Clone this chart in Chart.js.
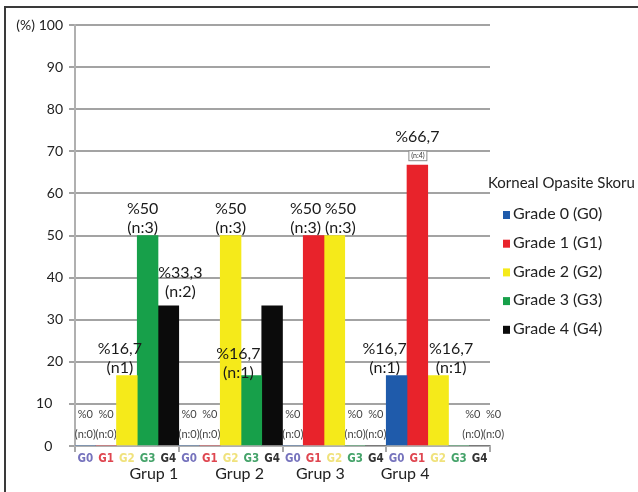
<!DOCTYPE html>
<html>
<head>
<meta charset="utf-8">
<script src="https://cdn.jsdelivr.net/npm/chart.js@4.4.1/dist/chart.umd.min.js"></script>
<style>
  html,body{margin:0;padding:0;background:#fff;}
  #c{display:block;}
</style>
</head>
<body>
<canvas id="c" width="638" height="492"></canvas>
<script>
/* categories */
const groupNames = ["Grup 1", "Grup 2", "Grup 3", "Grup 4"];
const gradeCodes = ["G0", "G1", "G2", "G3", "G4"];
const gradeNames = ["Grade 0 (G0)", "Grade 1 (G1)", "Grade 2 (G2)", "Grade 3 (G3)", "Grade 4 (G4)"];
const legendTitle = "Korneal Opasite Skoru";

/* percentages per grade, one value per group */
const grade0 = [0, 0, 0, 16.7];
const grade1 = [0, 0, 50, 66.7];
const grade2 = [16.7, 50, 50, 16.7];
const grade3 = [50, 16.7, 0, 0];
const grade4 = [33.3, 33.3, 0, 0];

/* case counts shown under the percentage (null = no label) */
const nGrade0 = ["(n:0)", "(n:0)", "(n:0)", "(n:1)"];
const nGrade1 = ["(n:0)", "(n:0)", "(n:3)", "(n:4)"];
const nGrade2 = ["(n1)", "(n:3)", "(n:3)", "(n:1)"];
const nGrade3 = ["(n:3)", "(n:1)", "(n:0)", "(n:0)"];
const nGrade4 = ["(n:2)", null, "(n:0)", "(n:0)"];

/* y axis */
const yMin = 0, yMax = 100, yStep = 10;

const barColors  = ["#1f5bab", "#e8232b", "#f5ea1a", "#17a04a", "#0b0b0b"];
const codeColors = ["#7673bd", "#df4650", "#f0e27c", "#45a36a", "#333333"];

const FONT = "Lato, 'Open Sans', sans-serif";
const CODE_FONT = "bold 11.5px 'DejaVu Sans Condensed', 'Liberation Sans Narrow', 'DejaVu Sans', sans-serif";

// small shifts for some value labels, key = "grade,group"
const labelNudge = {
  "2,0": {dx: -7},
  "3,0": {dx: -5},
  "4,0": {dx: 12, dy: -6},
  "3,1": {dx: -13, dy: 5},
  "1,2": {dx: -8},
  "2,2": {dx: 6},
  "0,3": {dx: -12},
  "1,3": {boxed: true},
  "2,3": {dx: 13},
  "3,3": {dx: 14},
  "4,3": {dx: 14}
};
// group captions are not centred under their groups
const groupShift = [27, 9, -14, -33];

const series = [grade0, grade1, grade2, grade3, grade4];
const nTags = [nGrade0, nGrade1, nGrade2, nGrade3, nGrade4];

function pctText(v){ return "%" + String(v).replace(".", ","); }

function drawValueLabels(chart, zeroPass){
  const c = chart.ctx;
  c.save();
  c.textAlign = "center";
  c.textBaseline = "middle";
  chart.data.datasets.forEach((ds, i) => {
    const meta = chart.getDatasetMeta(i);
    meta.data.forEach((bar, j) => {
      const v = ds.data[j], n = ds.nTags[j];
      if (n === null) return;
      if ((v === 0) !== zeroPass) return;
      const nd = labelNudge[i + "," + j] || {};
      const x = bar.x + (nd.dx || 0);
      if (v === 0) {
        c.font = "11px " + FONT;
        c.fillStyle = "#444";
        c.fillText(pctText(v), x, bar.y - 32);
        c.fillText(n, x, bar.y - 12);
      } else if (nd.boxed) {
        c.font = "16px " + FONT;
        c.fillStyle = "#1a1a1a";
        c.fillText(pctText(v), x, bar.y - 28);
        c.fillStyle = "#fff";
        c.strokeStyle = "#8a8a8a";
        c.lineWidth = 1;
        c.fillRect(x - 8.5, bar.y - 14.5, 18, 10);
        c.strokeRect(x - 8.5, bar.y - 14.5, 18, 10);
        c.font = "7px " + FONT;
        c.fillStyle = "#333";
        c.fillText(n, x + 0.5, bar.y - 9.5);
      } else {
        const y = bar.y - 8 + (nd.dy || 0);
        c.font = "16px " + FONT;
        c.fillStyle = "#1a1a1a";
        c.fillText(pctText(v), x, y - 19);
        c.fillText(n, x, y);
      }
    });
  });
  c.restore();
}

const extras = {
  id: "extras",
  beforeDraw(chart){
    const c = chart.ctx;
    c.save();
    c.fillStyle = "#fff";
    c.fillRect(0, 0, chart.width, chart.height);
    c.strokeStyle = "#3a3a3a";
    c.lineWidth = 2;
    c.strokeRect(5, 7, chart.width + 20, chart.height + 20);
    c.restore();
  },
  beforeDatasetsDraw(chart){ drawValueLabels(chart, true); },
  afterDatasetsDraw(chart){ drawValueLabels(chart, false); },
  afterDraw(chart){
    const c = chart.ctx, area = chart.chartArea, xs = chart.scales.x;
    c.save();
    c.textBaseline = "middle";
    c.textAlign = "center";
    // grade codes under each bar
    c.font = CODE_FONT;
    chart.data.datasets.forEach((ds, i) => {
      chart.getDatasetMeta(i).data.forEach(bar => {
        c.fillStyle = codeColors[i];
        c.fillText(gradeCodes[i], bar.x, area.bottom + 13);
      });
    });
    // group captions
    c.font = "16px " + FONT;
    c.fillStyle = "#222";
    groupNames.forEach((g, j) => {
      c.fillText(g, xs.getPixelForValue(j) + groupShift[j], area.bottom + 28);
    });
    // legend
    c.textAlign = "left";
    c.font = "15px " + FONT;
    c.fillText(legendTitle, area.right - 2, 183);
    c.font = "16px " + FONT;
    chart.data.datasets.forEach((ds, i) => {
      const y = 214 + i * 28.7;
      c.fillStyle = ds.backgroundColor;
      c.fillRect(area.right + 13, y - 3, 7, 8);
      c.fillStyle = "#222";
      c.fillText(ds.label, area.right + 23, y);
    });
    c.restore();
  }
};

new Chart(document.getElementById("c"), {
  type: "bar",
  data: {
    labels: groupNames,
    datasets: series.map((d, i) => ({
      label: gradeNames[i],
      data: d,
      nTags: nTags[i],
      backgroundColor: barColors[i],
      borderWidth: 0,
      categoryPercentage: 1,
      barPercentage: 1
    }))
  },
  options: {
    responsive: false,
    devicePixelRatio: 1,
    animation: false,
    layout: { padding: { left: 0, right: 148, top: 25, bottom: 0 } },
    plugins: { legend: { display: false }, tooltip: { enabled: false } },
    scales: {
      x: {
        offset: true,
        grid: { offset: true, drawOnChartArea: false, tickLength: 6, color: "#a8a8a8", lineWidth: 2 },
        border: { color: "#b0b0b0", width: 2 },
        ticks: { display: false },
        afterFit(s){ s.height = 46; }
      },
      y: {
        min: yMin, max: yMax,
        ticks: {
          stepSize: yStep,
          padding: 6,
          color: "#222",
          font: { family: FONT, size: 14 },
          callback: v => v === 100 ? "(%) 100" : (v <= 10 ? v + "   " : String(v))
        },
        grid: { color: "#a3a3a3", lineWidth: 2, tickLength: 6 },
        border: { color: "#b0b0b0", width: 2 },
        afterFit(s){ s.width = 75; }
      }
    }
  },
  plugins: [extras]
});
</script>
</body>
</html>
